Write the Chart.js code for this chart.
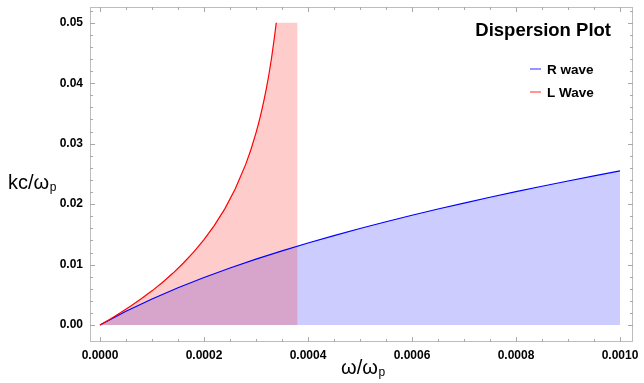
<!DOCTYPE html>
<html>
<head>
<meta charset="utf-8">
<script src="https://cdn.jsdelivr.net/npm/chart.js@4"></script>
<style>
  html, body { margin: 0; padding: 0; background: #fff; }
  #wrap { width: 644px; height: 383px; }
</style>
</head>
<body>
<div id="wrap"><canvas id="chart" width="644" height="383"></canvas></div>
<script>
// ==============================
// DATA
// ==============================
const R_OMEGA = [0, 0.00005, 0.0001, 0.00015, 0.0002, 0.00025, 0.0003, 0.00035, 0.0004, 0.00045,
                 0.0005, 0.00055, 0.0006, 0.00065, 0.0007, 0.00075, 0.0008, 0.00085, 0.0009, 0.00095, 0.001];
const R_K     = [0, 0.00228, 0.00432, 0.00617, 0.00787, 0.00944, 0.01090, 0.01227, 0.01357, 0.01480,
                 0.01597, 0.01709, 0.01816, 0.01919, 0.02018, 0.02114, 0.02206, 0.02296, 0.02383, 0.02468, 0.02550];

const L_OMEGA = [0, 0.00002, 0.00004, 0.00006, 0.00008, 0.0001, 0.00012, 0.00014, 0.00016, 0.00018,
                 0.0002, 0.00022, 0.00024, 0.00026, 0.00028, 0.00029, 0.0003, 0.000305, 0.00031,
                 0.000315, 0.00032, 0.000325, 0.00033, 0.000335, 0.000339];
const L_K     = [0, 0.00100, 0.00206, 0.00318, 0.00438, 0.00566, 0.00705, 0.00856, 0.01022, 0.01206,
                 0.01412, 0.01648, 0.01922, 0.02249, 0.02653, 0.02896, 0.03178, 0.03337, 0.03510,
                 0.03702, 0.03914, 0.04152, 0.04421, 0.04731, 0.05000];

// shaded L region is cut off flat at the plot top until the resonance
const L_FILL_EDGE = [0.00038, 0.05];

const X_TICKS = [0, 0.0002, 0.0004, 0.0006, 0.0008, 0.001];
const Y_TICKS = [0, 0.01, 0.02, 0.03, 0.04, 0.05];

const SERIES_NAMES = ["R wave", "L Wave"];
const TITLE_TEXT = "Dispersion Plot";

// ==============================
// STYLE
// ==============================
const FONT = "'Liberation Sans', Arial, sans-serif";
const BLUE = "rgb(0,0,255)";
const RED  = "rgb(255,0,0)";
const FRAME = "#bdbdbd";

const toPoints = (xs, ys) => xs.map((x, i) => ({ x, y: ys[i] }));
const lFill = toPoints(L_OMEGA, L_K).concat([{ x: L_FILL_EDGE[0], y: L_FILL_EDGE[1] }]);

// ==============================
// PLUGIN: frame, inside ticks, titles, legend
// ==============================
const decor = {
  id: "decor",
  afterDraw(chart) {
    const { ctx, chartArea: a, scales } = chart;
    const xs = scales.x, ys = scales.y;
    ctx.save();

    // frame
    ctx.strokeStyle = FRAME;
    ctx.lineWidth = 1;
    ctx.strokeRect(a.left + 0.5, a.top + 0.5, a.right - a.left - 1, a.bottom - a.top - 1);

    // inside ticks
    ctx.strokeStyle = "#a8a8a8";
    ctx.beginPath();
    for (let i = 0; i <= 20; i++) {
      const v = i * 0.00005;
      const len = i % 4 === 0 ? 5 : 3;
      const px = Math.round(xs.getPixelForValue(v)) + 0.5;
      ctx.moveTo(px, a.bottom); ctx.lineTo(px, a.bottom - len);
      ctx.moveTo(px, a.top);    ctx.lineTo(px, a.top + len);
    }
    for (let i = 0; i <= 26; i++) {
      const v = i * 0.002;
      const len = i % 5 === 0 ? 5 : 3;
      const py = Math.round(ys.getPixelForValue(v)) + 0.5;
      ctx.moveTo(a.left, py);  ctx.lineTo(a.left + len, py);
      ctx.moveTo(a.right, py); ctx.lineTo(a.right - len, py);
    }
    ctx.stroke();

    // axis titles with subscript p
    ctx.fillStyle = "#000";
    ctx.textBaseline = "alphabetic";
    ctx.textAlign = "left";
    const sub = (text, x, y) => {
      ctx.font = "20px " + FONT;
      ctx.fillText(text, x, y);
      const w = ctx.measureText(text).width;
      ctx.font = "12px " + FONT;
      ctx.fillText("p", x + w + 0.5, y + 2);
    };
    ctx.font = "20px " + FONT;
    const xw = ctx.measureText("ω/ω").width + 7;
    sub("ω/ω", 363 - xw / 2, 374);
    sub("kc/ω", 8, 189);

    // title
    ctx.font = "bold 18.5px " + FONT;
    ctx.textAlign = "right";
    ctx.fillText(TITLE_TEXT, 611, 36);

    // legend
    const colors = [BLUE, RED];
    const rows = [74, 97];
    ctx.textAlign = "left";
    ctx.font = "bold 13.5px " + FONT;
    SERIES_NAMES.forEach((name, i) => {
      ctx.globalAlpha = 0.55;
      ctx.strokeStyle = colors[i];
      ctx.lineWidth = 1.5;
      ctx.beginPath();
      ctx.moveTo(530, rows[i] - 5);
      ctx.lineTo(541, rows[i] - 5);
      ctx.stroke();
      ctx.globalAlpha = 1;
      ctx.fillStyle = "#000";
      ctx.fillText(name, 547, rows[i]);
    });
    ctx.restore();
  }
};

// ==============================
// CHART
// ==============================
new Chart(document.getElementById("chart"), {
  type: "scatter",
  data: {
    datasets: [
      { label: SERIES_NAMES[1], data: toPoints(L_OMEGA, L_K), showLine: true, fill: false,
        borderColor: RED, borderWidth: 1.2, pointRadius: 0 },
      { label: SERIES_NAMES[0], data: toPoints(R_OMEGA, R_K), showLine: true, fill: false,
        borderColor: BLUE, borderWidth: 1.2, pointRadius: 0 },
      { label: "L fill", data: lFill, showLine: true, fill: "origin", borderWidth: 0,
        borderColor: "rgba(0,0,0,0)", backgroundColor: "rgba(255,0,0,0.2)", pointRadius: 0 },
      { label: "R fill", data: toPoints(R_OMEGA, R_K), showLine: true, fill: "origin", borderWidth: 0,
        borderColor: "rgba(0,0,0,0)", backgroundColor: "rgba(0,0,255,0.2)", pointRadius: 0 }
    ]
  },
  options: {
    responsive: false,
    animation: false,
    events: [],
    layout: { padding: { top: 7, right: 11, left: 0, bottom: 0 } },
    plugins: {
      legend: { display: false },
      tooltip: { enabled: false },
      filler: { drawTime: "beforeDatasetsDraw" }
    },
    scales: {
      x: {
        type: "linear",
        min: -0.0000192,
        max: 0.001025,
        grid: { display: false, drawTicks: false },
        border: { display: false },
        afterBuildTicks: s => { s.ticks = X_TICKS.map(v => ({ value: v })); },
        afterFit: s => { s.height = 41; s.paddingLeft = 0; s.paddingRight = 0; },
        ticks: {
          padding: 6,
          maxRotation: 0,
          color: "#000",
          font: { family: FONT, size: 12, weight: "bold" },
          callback: v => v.toFixed(4)
        }
      },
      y: {
        type: "linear",
        min: -0.0028,
        max: 0.0526,
        grid: { display: false, drawTicks: false },
        border: { display: false },
        afterBuildTicks: s => { s.ticks = Y_TICKS.map(v => ({ value: v })); },
        afterFit: s => { s.width = 90; s.paddingTop = 0; s.paddingBottom = 0; },
        ticks: {
          padding: 7,
          color: "#000",
          font: { family: FONT, size: 12, weight: "bold" },
          callback: v => v.toFixed(2)
        }
      }
    }
  },
  plugins: [decor]
});
</script>
</body>
</html>
